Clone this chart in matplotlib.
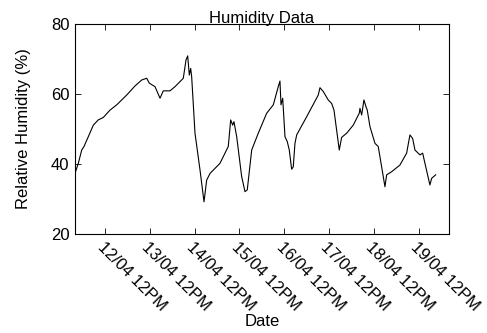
import matplotlib
matplotlib.use("Agg")
import matplotlib.pyplot as plt
import matplotlib.transforms as mtransforms

plt.rcParams['font.family'] = ['Liberation Sans', 'DejaVu Sans']

# days since 12/04 00:00
days = [-0.170, -0.096, -0.020, 0.031, 0.127, 0.239, 0.350, 0.462, 0.612, 0.761,
        0.984, 1.170, 1.319, 1.431, 1.489, 1.616, 1.728, 1.801, 1.951, 2.063,
        2.248, 2.308, 2.346, 2.382, 2.413, 2.435, 2.509, 2.621, 2.710, 2.770,
        2.844, 3.067, 3.252, 3.306, 3.350, 3.379, 3.440, 3.551, 3.625, 3.676,
        3.775, 3.922, 4.109, 4.257, 4.317, 4.368, 4.406, 4.429, 4.467, 4.518,
        4.569, 4.614, 4.667, 4.703, 4.741, 4.779, 5.002, 5.261, 5.299, 5.373,
        5.484, 5.560, 5.612, 5.730, 5.783, 5.895, 6.042, 6.176, 6.192, 6.230,
        6.281, 6.326, 6.355, 6.415, 6.527, 6.600, 6.676, 6.750, 6.788, 6.900,
        7.085, 7.234, 7.308, 7.368, 7.420, 7.531, 7.592, 7.627, 7.754, 7.792,
        7.882]
humidity = [37.3, 40.2, 44.0, 45.0, 47.8, 51.1, 52.6, 53.3, 55.4, 56.9,
            59.7, 62.3, 64.0, 64.5, 63.1, 62.1, 58.8, 60.9, 60.9, 62.1,
            64.5, 69.7, 70.9, 65.4, 67.3, 64.9, 48.8, 38.3, 29.2, 35.4,
            37.3, 40.2, 45.0, 52.6, 51.1, 52.1, 47.8, 36.4, 32.1, 32.6,
            44.0, 48.8, 54.5, 56.9, 59.7, 62.1, 63.7, 56.9, 58.8, 47.8,
            46.4, 44.0, 38.5, 39.2, 45.9, 48.3, 53.5, 59.7, 61.8, 60.7,
            58.3, 57.3, 55.4, 44.0, 47.6, 48.8, 51.1, 54.5, 55.9, 54.0,
            58.3, 56.4, 55.4, 50.7, 45.9, 45.0, 39.2, 33.5, 36.9, 37.8,
            39.7, 43.1, 48.3, 47.3, 44.0, 42.6, 43.1, 41.1, 34.0, 35.9,
            36.9]
tick_pos = [0.5, 1.5, 2.5, 3.5, 4.5, 5.5, 6.5, 7.5]
tick_labels = ['12/04 12PM', '13/04 12PM', '14/04 12PM', '15/04 12PM',
               '16/04 12PM', '17/04 12PM', '18/04 12PM', '19/04 12PM']
y_ticks = [20, 40, 60, 80]

FS = 12
fig = plt.figure(figsize=(4.87, 3.33), dpi=100)
ax = fig.add_axes([75/487, 1-234/333, (449-75)/487, (234-24)/333])
ax.plot(days, humidity, color='black', lw=0.8)
ax.set_xlim(-0.17, 8.18)
ax.set_ylim(20, 80)
ax.set_yticks(y_ticks)
ax.set_xticks(tick_pos)
ax.set_xticklabels(tick_labels, rotation=-45, ha='left', va='top',
                   rotation_mode='anchor', fontsize=FS)
offset = mtransforms.ScaledTranslation(-13/100, 0, fig.dpi_scale_trans)
for lab in ax.get_xticklabels():
    lab.set_transform(lab.get_transform() + offset)
ax.tick_params(direction='in', top=True, right=True, labelsize=FS, length=4, width=0.6, pad=4)
for s in ax.spines.values():
    s.set_linewidth(0.8)
ax.set_title('Humidity Data', fontsize=FS, pad=1)
ax.set_xlabel('Date', fontsize=FS, labelpad=0)
ax.set_ylabel('Relative Humidity (%)', fontsize=FS, labelpad=14)
fig.savefig('out.png', dpi=100)
